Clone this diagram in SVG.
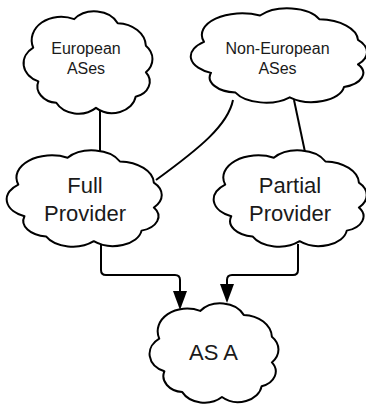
<svg xmlns="http://www.w3.org/2000/svg" xmlns:xlink="http://www.w3.org/1999/xlink" width="366" height="405" viewBox="0 0 366 405">
<style>
.cloud{fill:#ffffff;stroke:#000000;stroke-width:2;vector-effect:non-scaling-stroke;stroke-linejoin:round}
.edge{fill:none;stroke:#000000;stroke-width:2}
.lbl{font-family:"Liberation Sans",Arial,sans-serif;fill:#1a1a1a;text-anchor:middle}
.s{font-size:16px}
.l{font-size:22px}
</style>
<defs>
<path id="cloudShape" class="cloud" d="M8,36 A23,23 0 0 1 40,8 A20,20 0 0 1 74,12 A23,23 0 0 1 96,34 A19,19 0 0 1 96,60 A15.5,15.5 0 0 1 88,84 A18.5,18.5 0 0 1 57,95 A19.4,19.4 0 0 1 26,90 A16.2,16.2 0 0 1 12,69 A19.3,19.3 0 0 1 8,36 Z"/>
<marker id="arrow" markerUnits="userSpaceOnUse" markerWidth="20" markerHeight="14" refX="0" refY="7" orient="auto" viewBox="0 0 19 14">
<path d="M0,0 L19,7 L0,14 Z" fill="#000000"/>
</marker>
</defs>
<rect width="366" height="405" fill="#ffffff"/>
<g id="connectors">
<path class="edge" d="M100,110 V152"/>
<path class="edge" d="M233,100 C228,125 200,148 156,180"/>
<path class="edge" d="M294,100 L305,152"/>
<path class="edge" d="M101,244 V270 Q101,275 106,275 H175 Q180,275 180,280 V291" marker-end="url(#arrow)"/>
<path class="edge" d="M298,244 V270 Q298,275 293,275 H232 Q227,275 227,280 V284" marker-end="url(#arrow)"/>
</g>
<g id="european">
<use xlink:href="#cloudShape" transform="translate(23,11) scale(1.28,1.02)"/>
<text class="lbl s" x="86" y="54">European</text>
<text class="lbl s" x="86" y="74">ASes</text>
</g>
<g id="non-european">
<use xlink:href="#cloudShape" transform="translate(190,8) scale(1.75,0.94)"/>
<text class="lbl s" x="277.5" y="54">Non-European</text>
<text class="lbl s" x="277.5" y="74">ASes</text>
</g>
<g id="full-provider">
<use xlink:href="#cloudShape" transform="translate(6,150) scale(1.54,0.96)"/>
<text class="lbl l" x="85" y="193">Full</text>
<text class="lbl l" x="85" y="221">Provider</text>
</g>
<g id="partial-provider">
<use xlink:href="#cloudShape" transform="translate(213,150) scale(1.52,0.96)"/>
<text class="lbl l" x="290" y="193">Partial</text>
<text class="lbl l" x="290" y="221">Provider</text>
</g>
<g id="as-a">
<use xlink:href="#cloudShape" transform="translate(149,303) scale(1.28,0.99)"/>
<text class="lbl l" x="213.5" y="360">AS A</text>
</g>
</svg>
